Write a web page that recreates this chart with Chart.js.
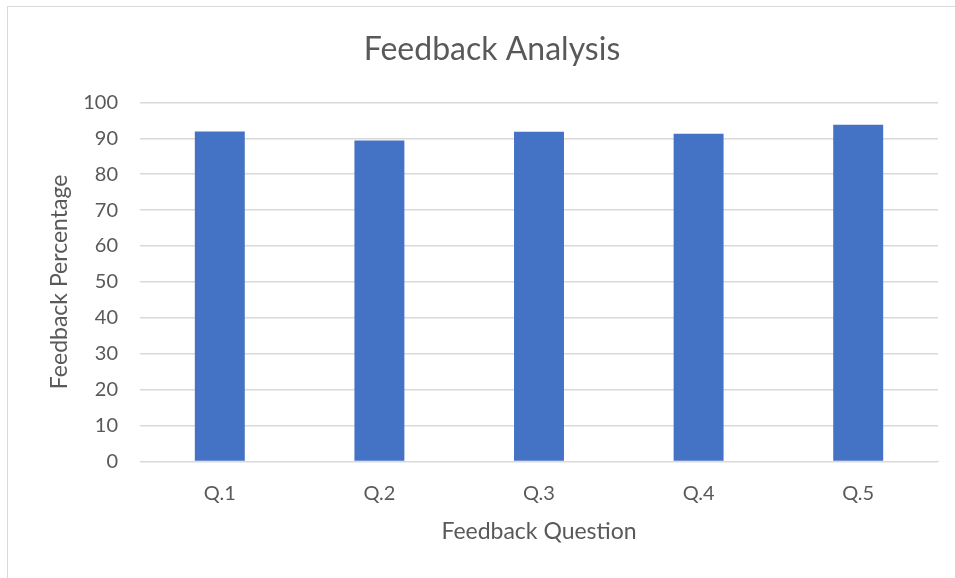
<!DOCTYPE html>
<html>
<head>
<meta charset="utf-8">
<script src="https://cdn.jsdelivr.net/npm/chart.js@4"></script>
<style>
  html, body { margin: 0; padding: 0; background: #fff; }
  .frame {
    position: absolute; left: 7px; top: 6px; width: 960px; height: 590px;
    border: 1px solid #d9d9d9; box-sizing: border-box;
  }
  .wrap { position: absolute; left: 0; top: 0; width: 955px; height: 578px; }
</style>
</head>
<body>
<div class="frame"></div>
<div class="wrap"><canvas class="chart"></canvas></div>
<script>
var ctx = document.querySelector('.chart');

const GREY = '#595959';
const GRID = '#d9d9d9';
const FONT = 'Lato, "Open Sans", sans-serif';

const questions = ['Q.1', 'Q.2', 'Q.3', 'Q.4', 'Q.5'];
const feedback = [91.9, 89.4, 91.8, 91.3, 93.8];
const yTicks = [0, 10, 20, 30, 40, 50, 60, 70, 80, 90, 100];

var myChart = new Chart(ctx, {
  type: 'bar',
  data: {
    labels: questions,
    datasets: [{
      label: 'Feedback Percentage',
      data: feedback,
      backgroundColor: '#4472c4',
      barPercentage: 0.313,
      categoryPercentage: 1
    }]
  },
  options: {
    responsive: true,
    maintainAspectRatio: false,
    animation: false,
    layout: {
      padding: { left: 46, right: 17, top: 30, bottom: 30 }
    },
    plugins: {
      legend: { display: false },
      tooltip: { enabled: false },
      title: {
        display: true,
        text: 'Feedback Analysis',
        color: GREY,
        font: { family: FONT, size: 32, weight: 'normal' },
        padding: { top: 0, bottom: 34 }
      }
    },
    scales: {
      x: {
        grid: { display: false },
        border: { color: GRID },
        ticks: {
          color: GREY,
          font: { family: FONT, size: 20 },
          padding: 12
        },
        title: {
          display: true,
          text: 'Feedback Question',
          color: GREY,
          font: { family: FONT, size: 23 },
          padding: { top: 0, bottom: 3 }
        }
      },
      y: {
        min: 0,
        max: 100,
        afterBuildTicks: function(axis) {
          axis.ticks = yTicks.map(function(v) { return { value: v }; });
        },
        grid: { color: GRID, lineWidth: 1.5, drawTicks: false },
        border: { display: false },
        ticks: {
          color: GREY,
          font: { family: FONT, size: 20 },
          padding: 22
        },
        title: {
          display: true,
          text: 'Feedback Percentage',
          color: GREY,
          font: { family: FONT, size: 23 },
          padding: { top: 0, bottom: 0 }
        },
        afterFit: function(axis) {
          axis.width = 94;
        }
      }
    }
  }
});
</script>
</body>
</html>
